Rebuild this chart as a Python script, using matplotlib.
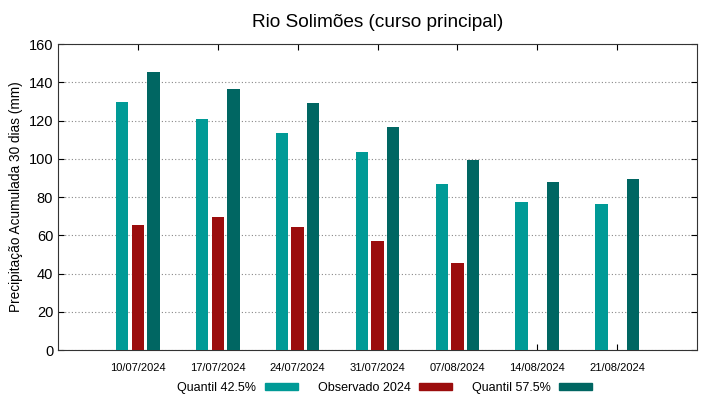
import numpy as np
import matplotlib
matplotlib.use("Agg")
import matplotlib.pyplot as plt
from matplotlib.patches import Patch

datas = ["10/07/2024", "17/07/2024", "24/07/2024", "31/07/2024",
         "07/08/2024", "14/08/2024", "21/08/2024"]
quantil_425 = [129.6, 120.9, 113.4, 103.5, 86.9, 77.3, 76.5]
observado = [65.3, 69.3, 64.3, 56.8, 45.7, np.nan, np.nan]
quantil_575 = [145.4, 136.5, 129.2, 116.7, 99.5, 87.9, 89.3]

cor_q425 = "#009a96"
cor_obs = "#9b0d0d"
cor_q575 = "#006662"

plt.rcParams['font.family'] = ['Liberation Sans', 'DejaVu Sans']

fig = plt.figure(figsize=(7.19, 3.99), dpi=100)
ax = fig.add_axes([0.0807, 0.1228, 0.8887, 0.7669])

x = np.arange(len(datas))
w = 0.155
off = 0.196
ax.bar(x - off, quantil_425, width=w, color=cor_q425, zorder=3)
ax.bar(x, observado, width=w, color=cor_obs, zorder=3)
ax.bar(x + off, quantil_575, width=w, color=cor_q575, zorder=3)

ax.set_xlim(-1, len(datas))
ax.set_ylim(0, 160)
ax.set_yticks(range(0, 161, 20))
ax.set_xticks(x)
ax.set_xticklabels(datas, fontsize=8)
ax.tick_params(axis='y', labelsize=10.5, direction='in', right=True, length=4)
ax.tick_params(axis='x', direction='in', top=True, length=4, pad=9)
ax.grid(axis='y', linestyle=(0, (1, 2)), color='#888888', linewidth=0.8, zorder=0)
for s in ax.spines.values():
    s.set_color('#333333')

ax.set_ylabel("Precipitação Acumulada 30 dias (mm)", fontsize=9.8)
ax.set_title("Rio Solimões (curso principal)", fontsize=13.7, pad=12)

handles = [Patch(color=cor_q425), Patch(color=cor_obs), Patch(color=cor_q575)]
labels = ["Quantil 42.5%", "Observado 2024", "Quantil 57.5%"]
fig.legend(handles, labels, loc='center', bbox_to_anchor=(0.535, 0.028), ncol=3,
           frameon=False, markerfirst=False, fontsize=9, handlelength=2.6,
           handleheight=0.55, columnspacing=1.6, handletextpad=0.7)

fig.savefig("out.png", dpi=100)
